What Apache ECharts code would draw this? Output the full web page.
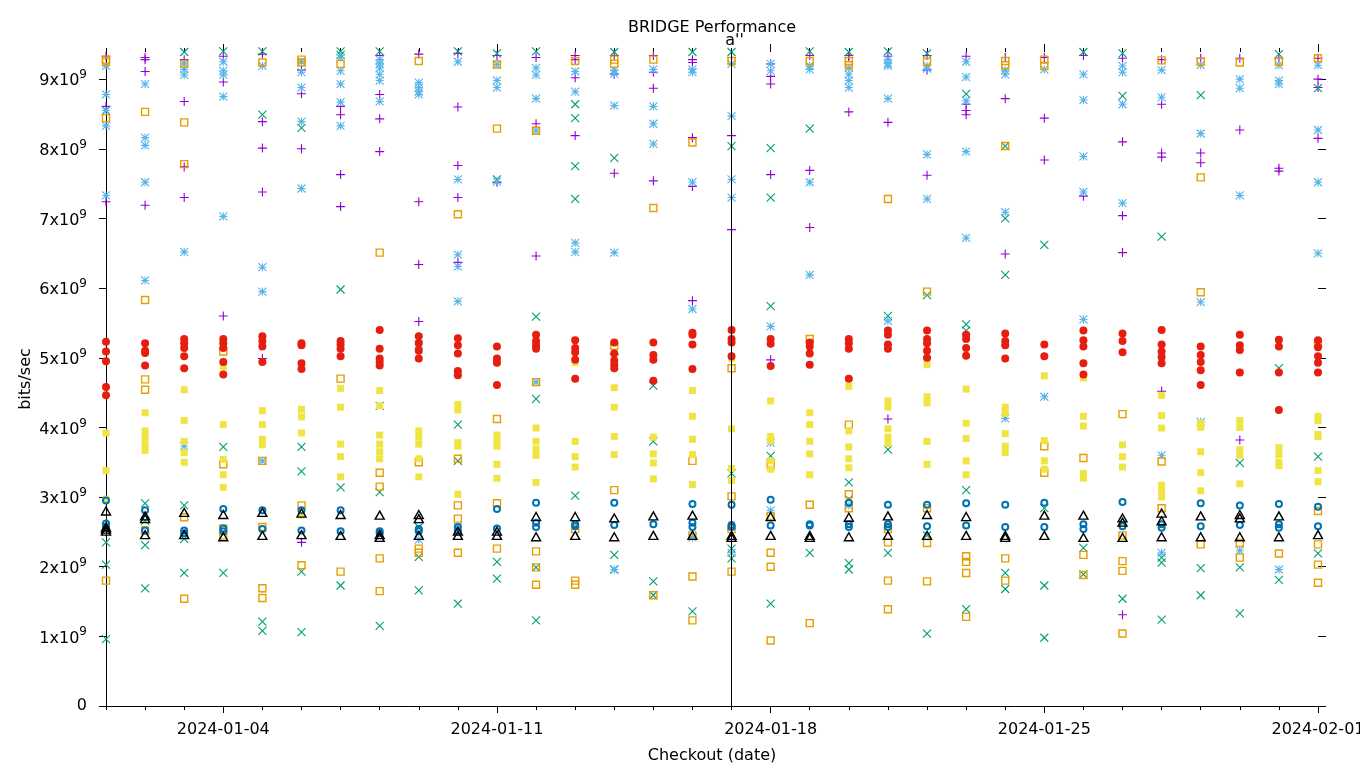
<!DOCTYPE html>
<html><head><meta charset="utf-8">
<script src="https://cdn.jsdelivr.net/npm/echarts@6/dist/echarts.min.js"></script>
<style>html,body{margin:0;padding:0;background:#fff}#c{width:1360px;height:768px}</style>
</head><body><div id="c"></div>
<script>
// ---- data (values in units of 10^9 bits/sec) ----
const dates = ['2024-01-01','2024-01-02','2024-01-03','2024-01-04','2024-01-05','2024-01-06','2024-01-07','2024-01-08',
  '2024-01-09','2024-01-10','2024-01-11','2024-01-12','2024-01-13','2024-01-14','2024-01-15','2024-01-16',
  '2024-01-17','2024-01-18','2024-01-19','2024-01-20','2024-01-21','2024-01-22','2024-01-23','2024-01-24',
  '2024-01-25','2024-01-26','2024-01-27','2024-01-28','2024-01-29','2024-01-30','2024-01-31','2024-02-01'];
const xTickLabels = ['2024-01-04','2024-01-11','2024-01-18','2024-01-25','2024-02-01'];
const yTicks = [0,1,2,3,4,5,6,7,8,9];
const markerDate = '2024-01-17';
const markerLabel = "a''";
const titleText = 'BRIDGE Performance';

const purplePlus = [[9.33,8.61,7.24],[9.31,9.28,9.11,7.19],[9.28,8.68,7.74,7.30],[9.33,8.96,5.60],[9.36,8.39,8.01,7.38,4.99],
  [9.13,8.79,8.00,2.35],[8.61,8.49,7.63,7.17],[9.34,8.78,8.43,7.96],[9.36,7.24,6.34,5.52],[9.37,8.60,7.76,7.30,6.37],
  [9.34,7.52],[9.31,8.36,6.46],[9.34,9.28,9.02,8.19],[9.34,9.07,7.65,5.05],[9.34,9.10,8.87,7.54],[9.28,9.24,8.16,7.46,5.82],
  [9.31,8.19,6.84,2.54],[9.22,9.04,8.93,7.63,4.97],[9.34,7.69,6.87],[9.34,9.31,8.53],[9.33,8.38,4.12],[9.34,9.13,7.62],
  [9.33,8.64,8.55,8.49],[9.31,8.72,6.49],[9.31,8.44,7.84],[9.34,7.32],[9.30,8.10,7.04,6.51,1.31],[9.28,8.64,7.94,7.88,4.52],
  [9.30,7.94,7.80],[9.30,8.27,3.82],[9.30,7.72,7.68],[9.30,9.00,8.88,8.15]];
const greenX = [[8.55,2.35,2.03,0.96],[2.91,2.66,2.31,1.69],[9.39,2.88,2.40,1.91],[9.40,3.72,1.91],[9.40,8.49,1.21,1.08],
  [8.30,3.72,3.37,1.93,1.06],[9.40,9.35,5.98,3.14,1.73],[9.40,4.31,3.07,1.15],[5.19,2.57,2.14,1.66],[9.40,4.04,3.52,1.47],
  [9.37,7.56,2.07,1.83],[9.40,5.59,4.41,1.99,1.23],[8.64,8.44,7.75,7.28,3.02],[9.39,7.87,2.17,1.96],[4.60,3.80,1.79,1.59],
  [9.39,1.36],[9.39,8.04,3.34,2.26,2.12],[8.01,7.30,5.74,3.59,1.47],[9.40,8.29,2.20],[9.39,3.21,2.97,2.05,1.96],
  [9.40,5.60,3.68,2.20],[9.37,5.90,2.45,1.04],[8.79,5.48,5.39,3.10,1.39],[8.04,7.00,6.19,1.91,1.68],[6.62,2.84,1.73,0.98],
  [9.39,2.27,1.89],[9.37,8.76,1.54],[6.74,2.13,2.06,1.24],[8.77,1.98,1.59],[3.49,1.99,1.33],[9.36,4.85,1.81],[8.87,3.58,2.19]];
const blueStar = [[9.19,8.78,8.55,8.33,7.33],[8.93,8.16,8.05,7.52,6.11],[9.22,9.14,9.06,6.52,3.73],[9.25,9.12,9.06,8.75,7.03],
  [9.19,6.30,5.95,3.52],[9.25,9.10,8.88,8.39,7.43],[9.31,9.12,8.93,8.67,8.33],[9.28,9.22,9.16,9.07,8.98,8.68],
  [8.95,8.88,8.82,8.78,2.39],[9.25,7.56,6.48,6.31,5.81,2.57],[9.21,8.98,8.88,7.53],[9.16,9.06,8.72,8.26,4.65],
  [9.11,8.82,6.65,6.52],[9.13,9.08,8.62,6.51,1.96],[9.14,8.61,8.36,8.07],[9.14,9.10,7.52,5.70,2.42],[9.22,8.47,7.56,7.30,2.20],
  [9.22,9.12,5.45,3.78,2.81],[9.19,9.14,7.52,6.19],[9.16,9.07,8.98,8.88,2.88],[9.28,9.22,9.19,8.72,5.53],[9.19,9.15,7.92,7.28],
  [9.25,9.03,8.69,7.96,6.72],[9.13,9.07,7.09,4.13],[9.14,4.44],[9.07,8.70,7.89,7.38,5.55],[9.19,9.10,8.64,7.22],
  [9.13,8.74,3.60,2.20],[9.20,8.22,5.80,4.08],[9.00,8.87,7.33,2.23],[9.20,8.98,8.93,1.96],[9.20,8.27,7.52,6.50]];
const orangeSquare = [[9.25,9.28,8.44,1.80],[8.53,5.83,4.69,4.54,2.52],[9.22,8.38,7.78,2.71,1.54],[5.09,3.47,2.55,2.45],
  [9.24,3.52,2.57,1.69,1.55],[9.28,9.24,2.88,2.02],[9.22,4.70,1.93],[6.51,3.35,3.15,2.12,1.65],[9.26,3.50,2.26,2.20],
  [7.06,3.55,2.88,2.69,2.20],[9.21,8.29,4.12,2.91,2.26],[8.26,4.65,2.22,1.99,1.74],[9.26,2.54,1.80,1.74],[9.28,9.22,5.17,3.10],
  [9.28,7.15,1.59],[8.09,3.52,2.45,1.86,1.23],[9.26,4.85,3.01,2.54,1.93],[3.46,2.73,2.20,2.00,0.94],[9.26,5.27,2.89,1.19],
  [9.26,9.20,4.04,3.04,2.84],[7.28,2.54,2.35,1.80,1.39],[9.25,5.95,2.84,2.34,1.79],[2.15,2.07,1.91,1.28],[9.26,9.20,8.04,2.12,1.80],
  [9.28,9.19,3.73,3.35],[3.56,2.17,1.88],[4.19,2.45,2.08,1.94,1.04],[9.27,3.51,2.84],[9.25,7.59,5.94,2.32],[9.24,2.34,2.13],
  [9.25,2.19],[9.30,5.20,2.80,2.32,2.03,1.77]];
const yellowSquare = [[3.92,3.38,2.97],[4.21,3.95,3.86,3.76,3.67],[4.54,4.10,3.80,3.64,3.50],[4.87,4.04,3.54,3.32,3.14],
  [4.24,4.04,3.83,3.75],[4.26,4.15,3.92,2.74],[4.56,4.29,3.76,3.58,3.29],[4.53,4.31,3.89,3.76,3.65,3.55],[3.95,3.86,3.76,3.55,3.29],
  [4.33,4.25,3.78,3.73,3.04],[3.89,3.80,3.73,3.47,3.27],[3.99,3.80,3.69,3.60,3.21],[4.93,3.80,3.58,3.43],[4.57,4.29,3.87,3.61],
  [3.86,3.62,3.49,3.26],[4.53,4.16,3.83,3.61,3.18],[4.99,3.98,3.41,3.24],[4.38,3.87,3.81,3.52,3.40],[4.21,4.04,3.80,3.62,3.32],
  [4.59,3.95,3.72,3.55,3.42],[4.38,4.29,3.98,3.86,3.77],[4.90,4.44,4.35,3.80,3.47],[4.55,4.06,3.84,3.52,3.32],
  [4.29,4.20,3.91,3.73,3.64],[4.74,3.81,3.52,3.40],[4.71,4.16,4.02,3.34,3.27],[3.75,3.58,3.43],[4.46,4.17,3.99,3.17,3.09,3.00],
  [4.06,4.00,3.65,3.35,3.09],[4.10,4.00,3.68,3.60,3.19],[3.71,3.61,3.50,3.45],[4.16,4.10,3.90,3.87,3.38,3.22]];
const blueCircle = [[2.95,2.62,2.57],[2.81,2.52],[2.52,2.48],[2.83,2.55,2.51],[2.81,2.54],[2.81,2.52],[2.81,2.51],[2.51,2.48],
  [2.54,2.51],[2.57,2.51],[2.83,2.55],[2.92,2.63,2.57],[2.61,2.58],[2.92,2.60],[2.61],[2.90,2.63,2.57],[2.89,2.60,2.57],
  [2.96,2.59],[2.61,2.59],[2.92,2.61,2.57],[2.89,2.61,2.57],[2.89,2.58],[2.91,2.59],[2.89,2.57],[2.92,2.57],[2.61,2.54],
  [2.93,2.58],[2.61,2.56],[2.91,2.58],[2.88,2.60],[2.90,2.61,2.56],[2.86,2.58]];
const redCircle = [[5.23,5.09,4.95,4.58,4.46],[5.21,5.10,5.07,4.89],[5.27,5.21,5.14,5.02,4.85],[5.27,5.21,5.14,4.94,4.76],
  [5.31,5.24,5.16,4.94],[5.21,5.18,4.92,4.84],[5.24,5.19,5.13,5.02],[5.40,5.13,4.99,4.94,4.89],[5.31,5.21,5.10,4.99],
  [5.28,5.18,5.06,4.81,4.75],[5.16,4.99,4.93,4.61],[5.33,5.24,5.18,5.13],[5.25,5.14,5.08,4.97,4.70],[5.22,5.06,4.96,4.90,4.85],
  [5.22,5.04,4.97,4.67],[5.36,5.33,5.19,4.84],[5.40,5.27,5.22,5.02],[5.27,5.20,4.88],[5.22,5.16,5.06,4.90],[5.27,5.21,5.13,4.70],
  [5.39,5.33,5.19,5.13],[5.39,5.27,5.21,5.10,5.00],[5.33,5.27,5.14,5.03],[5.35,5.24,5.18,4.99],[5.19,5.02],
  [5.39,5.25,5.16,4.92,4.76],[5.35,5.24,5.08],[5.40,5.19,5.09,5.01,4.92],[5.16,5.04,4.94,4.82,4.61],[5.33,5.18,5.11,4.79],
  [5.26,5.16,4.79,4.25],[5.25,5.15,5.02,4.93,4.79]];
const blackTriangle = [[2.80,2.57,2.54,2.51],[2.73,2.69,2.46],[2.78,2.46],[2.75,2.43],[2.78,2.45],[2.77,2.46],[2.75,2.45],
  [2.74,2.46,2.42],[2.75,2.69,2.45],[2.51,2.45],[2.51,2.45],[2.72,2.43],[2.72,2.45],[2.70,2.43],[2.73,2.45],[2.74,2.45],
  [2.45,2.42],[2.72,2.45],[2.45,2.42],[2.71,2.43],[2.73,2.45],[2.75,2.45],[2.72,2.45],[2.45,2.42],[2.74,2.45],[2.74,2.42],
  [2.70,2.64,2.42],[2.77,2.66,2.43],[2.73,2.43],[2.75,2.70,2.43],[2.73,2.43],[2.46]];

// ---- build ----
const G = 1e9;
const ts = d => Date.parse(d + 'T00:00:00Z');
const toPoints = arr => {
  const out = [];
  arr.forEach((vals, i) => vals.forEach(v => out.push([ts(dates[i]), v * G])));
  return out;
};
const xMin = ts(dates[0]), xMax = ts(dates[dates.length - 1]);
const dayValues = dates.map(ts);
const weekValues = xTickLabels.map(ts);
const yValues = yTicks.map(v => v * G);
const yMax = 9.39 * G;
const FONT = 'DejaVu Sans';

const seriesDefs = [
  {name: 'set 1', data: purplePlus, symbol: 'path://M0 5L10 5M5 0L5 10', size: 9,
   style: {color: 'none', borderColor: '#9400d3', borderWidth: 1.1}},
  {name: 'set 2', data: greenX, symbol: 'path://M0 0L10 10M0 10L10 0', size: 8,
   style: {color: 'none', borderColor: '#009e73', borderWidth: 1.1}},
  {name: 'set 3', data: blueStar, symbol: 'path://M0 5L10 5M5 0L5 10M0 0L10 10M0 10L10 0', size: 8,
   style: {color: 'none', borderColor: '#56b4e9', borderWidth: 1.1}},
  {name: 'set 4', data: orangeSquare, symbol: 'rect', size: 7,
   style: {color: 'none', borderColor: '#e69f00', borderWidth: 1.4}},
  {name: 'set 5', data: yellowSquare, symbol: 'rect', size: 7,
   style: {color: '#f0e442'}},
  {name: 'set 6', data: blueCircle, symbol: 'circle', size: 6,
   style: {color: 'none', borderColor: '#0072b2', borderWidth: 2}},
  {name: 'set 7', data: redCircle, symbol: 'circle', size: 8,
   style: {color: '#e51e10'}},
  {name: 'set 8', data: blackTriangle, symbol: 'triangle', size: [9, 8],
   style: {color: 'none', borderColor: '#000000', borderWidth: 1.4}}
];

const series = seriesDefs.map(d => ({
  type: 'scatter', name: d.name, xAxisIndex: 0, yAxisIndex: 0,
  data: toPoints(d.data), symbol: d.symbol, symbolSize: d.size,
  itemStyle: Object.assign({opacity: 1}, d.style), clip: false, emphasis: {disabled: true}, silent: true
}));
series.unshift({
  type: 'scatter', name: 'marker', xAxisIndex: 0, yAxisIndex: 0, data: [], silent: true,
  markLine: {
    silent: true, symbol: ['none', 'none'], animation: false,
    lineStyle: {color: '#000', width: 1, type: 'solid', opacity: 1},
    label: {show: true, position: 'end', formatter: markerLabel, color: '#000',
            fontFamily: FONT, fontSize: 16, distance: 3, padding: [0, 0, 0, 6]},
    data: [{xAxis: ts(markerDate)}]
  }
});

const fmtDate = v => new Date(v).toISOString().slice(0, 10);
const baseX = {type: 'value', min: xMin, max: xMax, splitLine: {show: false}, gridIndex: 0};

const option = {
  animation: false,
  backgroundColor: '#ffffff',
  textStyle: {fontFamily: FONT},
  title: {text: titleText, left: 623, top: 15,
          textStyle: {fontFamily: FONT, fontSize: 16, fontWeight: 'normal', color: '#000'}},
  grid: {left: 106, right: 42, top: 52, bottom: 62, containLabel: false, outerBoundsMode: 'none'},
  xAxis: [
    Object.assign({}, baseX, {
      position: 'bottom', name: 'Checkout (date)', nameLocation: 'middle', nameGap: 42,
      nameMoveOverlap: false,
      nameTextStyle: {fontFamily: FONT, fontSize: 16, color: '#000'},
      axisLine: {show: true, onZero: false, lineStyle: {color: '#000', width: 1}},
      axisTick: {show: true, length: 7, customValues: weekValues, lineStyle: {color: '#000'}},
      axisLabel: {show: true, customValues: weekValues, formatter: fmtDate, margin: 16,
                  fontFamily: FONT, fontSize: 16, color: '#000'}
    }),
    Object.assign({}, baseX, {
      position: 'bottom', axisLine: {show: false, onZero: false},
      axisTick: {show: true, length: 4, customValues: dayValues, lineStyle: {color: '#000'}},
      axisLabel: {show: false}
    }),
    Object.assign({}, baseX, {
      position: 'top', axisLine: {show: false, onZero: false},
      axisTick: {show: true, length: 4, customValues: dayValues, lineStyle: {color: '#000'}},
      axisLabel: {show: false}
    }),
    Object.assign({}, baseX, {
      position: 'top', axisLine: {show: false, onZero: false},
      axisTick: {show: true, length: 8, customValues: weekValues, lineStyle: {color: '#000'}},
      axisLabel: {show: false}
    })
  ],
  yAxis: [
    {
      type: 'value', position: 'left', min: 0, max: yMax, splitLine: {show: false},
      name: 'bits/sec', nameLocation: 'middle', nameGap: 72, nameRotate: 90, nameMoveOverlap: false,
      nameTextStyle: {fontFamily: FONT, fontSize: 16, color: '#000'},
      axisLine: {show: true, onZero: false, lineStyle: {color: '#000', width: 1}},
      axisTick: {show: true, length: 7, customValues: yValues, lineStyle: {color: '#000'}},
      axisLabel: {
        show: true, customValues: yValues, margin: 19, color: '#000',
        formatter: v => v === 0 ? '{m|0}' : '{m|' + Math.round(v / G) + 'x10}{s|9}',
        rich: {
          m: {fontFamily: FONT, fontSize: 16, color: '#000', verticalAlign: 'bottom'},
          s: {fontFamily: FONT, fontSize: 12, color: '#000', verticalAlign: 'bottom', padding: [0, 0, 8, 0]}
        }
      }
    },
    {
      type: 'value', position: 'right', min: 0, max: yMax, splitLine: {show: false},
      axisLine: {show: false, onZero: false},
      axisTick: {show: true, length: 8, customValues: yValues, lineStyle: {color: '#000'}},
      axisLabel: {show: false}
    }
  ],
  series: series
};

const chart = echarts.init(document.getElementById('c'), null, {renderer: 'canvas'});
chart.setOption(option);
</script>
</body></html>
